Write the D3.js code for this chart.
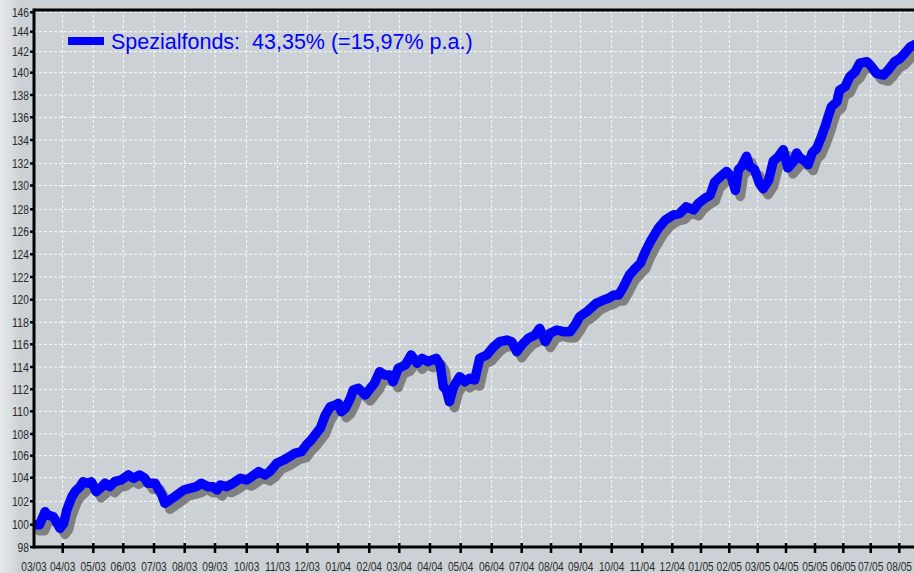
<!DOCTYPE html>
<html>
<head>
<meta charset="utf-8">
<script src="https://cdnjs.cloudflare.com/ajax/libs/d3/7.8.5/d3.min.js"></script>
<style>
  body { margin: 0; background: #cbd1d5; overflow: hidden; }
  svg { display: block; }
  .tick-label { font-family: "Liberation Sans", Arial, sans-serif; font-size: 13px; fill: #2b2b2b; }
</style>
</head>
<body>
<script>
// month tick labels (MM/YY)
const monthLabels = ['03/03', '04/03', '05/03', '06/03', '07/03', '08/03', '09/03', '10/03', '11/03', '12/03',
    '01/04', '02/04', '03/04', '04/04', '05/04', '06/04', '07/04', '08/04', '09/04', '10/04', '11/04', '12/04',
    '01/05', '02/05', '03/05', '04/05', '05/05', '06/05', '07/05', '08/05']

const yTicks = [98, 100, 102, 104, 106, 108, 110, 112, 114, 116, 118, 120, 122, 124, 126, 128,
    130, 132, 134, 136, 138, 140, 142, 144, 146]

const dates = [
    '2003-03-01', '2003-03-07', '2003-03-13', '2003-03-16', '2003-03-22', '2003-03-25', '2003-03-29',
    '2003-04-02', '2003-04-05', '2003-04-10', '2003-04-13', '2003-04-18', '2003-04-21', '2003-04-26', '2003-04-29',
    '2003-05-04', '2003-05-10', '2003-05-13', '2003-05-18', '2003-05-23', '2003-05-30',
    '2003-06-06', '2003-06-11', '2003-06-17', '2003-06-22', '2003-06-25',
    '2003-07-02', '2003-07-05', '2003-07-09', '2003-07-12', '2003-07-17', '2003-07-24', '2003-07-31',
    '2003-08-06', '2003-08-13', '2003-08-18', '2003-08-25', '2003-08-30',
    '2003-09-03', '2003-09-06', '2003-09-12', '2003-09-18', '2003-09-25',
    '2003-10-01', '2003-10-06', '2003-10-13', '2003-10-19', '2003-10-24', '2003-10-31',
    '2003-11-07', '2003-11-13', '2003-11-18', '2003-11-25', '2003-11-30',
    '2003-12-05', '2003-12-10', '2003-12-14', '2003-12-19', '2003-12-24', '2003-12-29',
    '2004-01-01', '2004-01-04', '2004-01-08', '2004-01-13', '2004-01-16', '2004-01-21', '2004-01-28',
    '2004-02-02', '2004-02-06', '2004-02-11', '2004-02-16', '2004-02-21', '2004-02-24', '2004-02-29',
    '2004-03-07', '2004-03-13', '2004-03-19', '2004-03-24', '2004-03-30',
    '2004-04-07', '2004-04-11', '2004-04-14', '2004-04-17', '2004-04-20', '2004-04-24', '2004-04-30',
    '2004-05-05', '2004-05-10', '2004-05-15', '2004-05-20', '2004-05-27',
    '2004-06-03', '2004-06-09', '2004-06-16', '2004-06-21', '2004-06-26',
    '2004-07-01', '2004-07-08', '2004-07-15', '2004-07-20', '2004-07-26', '2004-07-31',
    '2004-08-07', '2004-08-14', '2004-08-21', '2004-08-26', '2004-08-31',
    '2004-09-07', '2004-09-16', '2004-09-23', '2004-09-28',
    '2004-10-03', '2004-10-08', '2004-10-13', '2004-10-19', '2004-10-25', '2004-10-30',
    '2004-11-04', '2004-11-10', '2004-11-17', '2004-11-24',
    '2004-12-02', '2004-12-09', '2004-12-16', '2004-12-24', '2004-12-29',
    '2005-01-05', '2005-01-11', '2005-01-16', '2005-01-22', '2005-01-29',
    '2005-02-03', '2005-02-07', '2005-02-10', '2005-02-13', '2005-02-18', '2005-02-21', '2005-02-26',
    '2005-03-03', '2005-03-07', '2005-03-13', '2005-03-18', '2005-03-24', '2005-03-29',
    '2005-04-03', '2005-04-09', '2005-04-12', '2005-04-15', '2005-04-21', '2005-04-24', '2005-04-28',
    '2005-05-03', '2005-05-08', '2005-05-12', '2005-05-16', '2005-05-19', '2005-05-25', '2005-05-28',
    '2005-06-03', '2005-06-08', '2005-06-14', '2005-06-19', '2005-06-27',
    '2005-07-02', '2005-07-07', '2005-07-15', '2005-07-20', '2005-07-27',
    '2005-08-02', '2005-08-07', '2005-08-13', '2005-08-17', '2005-08-23'
]

const values = [
    100.00, 100.00, 101.11, 100.83, 100.68, 100.26, 99.68,
    100.12, 101.26, 102.39, 102.81, 103.24, 103.66, 103.53, 103.66,
    102.81, 103.24, 103.53, 103.24, 103.66, 103.81,
    104.25, 103.95, 104.25, 103.95, 103.53,
    103.53, 103.10, 102.53, 101.83, 102.11, 102.53, 102.96,
    103.10, 103.24, 103.53, 103.24, 103.24,
    102.96, 103.38, 103.24, 103.53, 103.95,
    103.81, 104.09, 104.55, 104.25, 104.55, 105.31,
    105.61, 105.91, 106.22, 106.37, 106.99,
    107.45, 108.06, 108.50, 109.67, 110.42, 110.57,
    110.73, 109.96, 110.27, 111.18, 111.94, 112.09, 111.48,
    112.09, 112.54, 113.58, 113.28, 113.28, 112.68, 113.88,
    114.18, 115.06, 114.33, 114.77, 114.47,
    114.77, 114.18, 112.23, 111.94, 110.87, 112.23, 113.13,
    112.68, 112.99, 112.83, 114.77, 115.06,
    115.79, 116.24, 116.39, 116.24, 115.35,
    115.94, 116.55, 116.85, 117.45, 116.24, 117.00,
    117.30, 117.15, 117.15, 117.75, 118.50,
    118.94, 119.68, 119.97, 120.12,
    120.41, 120.41, 121.15, 122.18, 122.77, 123.21,
    124.23, 125.27, 126.30, 127.04,
    127.49, 127.64, 128.21, 127.94, 128.49,
    128.91, 129.18, 130.31, 130.79, 131.27,
    130.79, 129.59, 131.43, 131.74, 132.61, 131.74, 131.43,
    130.16, 129.73, 130.48, 132.19, 132.61, 133.17,
    131.59, 132.19, 132.89, 132.50, 132.19, 131.90, 132.89,
    133.31, 134.29, 135.17, 136.21, 136.95, 137.40, 138.45,
    138.74, 139.64, 140.10, 140.90, 141.05,
    140.57, 139.95, 139.79, 140.26, 141.05,
    141.37, 141.85, 142.50, 142.67, 142.97
]

const legendText = 'Spezialfonds:  43,35% (=15,97% p.a.)'

const w = 914
const h = 573
const padLeft = 34
const padTop = 10
const axisY = 547

// the original axis is slightly uneven, so both scales are piecewise over the tick positions
const monthX = [34, 62.7, 93.3, 123.3, 154, 184.7, 215, 246.7, 277.7, 307.3, 338.3, 369.3, 399.3, 430,
    460.7, 491.7, 521.7, 551, 580.7, 611.7, 642.3, 672.3, 701, 729.3, 757.7, 786, 815, 843.3, 870.7, 899.3]
const tickY = [547, 524.7, 501.3, 477.7, 455.7, 434, 411.3, 389.3, 367, 344.3, 322.3, 299.7, 277, 254.3,
    231.7, 209.3, 185.5, 163.5, 140, 117.3, 95, 72.7, 51.7, 31.7, 12.3]

const parseDay = d3.utcParse('%Y-%m-%d')
const parseMonth = d3.utcParse('%m/%y')
const monthStarts = monthLabels.map(parseMonth)
const data = dates.map((d, i) => ({ date: parseDay(d), value: values[i] }))

const xScale = d3.scaleUtc().domain(monthStarts).range(monthX)
const yScale = d3.scaleLinear().domain(yTicks).range(tickY)

const svg = d3.select('body')
    .append('svg')
    .attr('width', w)
    .attr('height', h)

const defs = svg.append('defs')
const grad = defs.append('linearGradient').attr('id', 'strip')
grad.append('stop').attr('offset', '0%').attr('stop-color', '#e8ebed')
grad.append('stop').attr('offset', '100%').attr('stop-color', '#cbd1d5')
defs.append('clipPath').attr('id', 'plot')
    .append('rect')
    .attr('x', padLeft)
    .attr('y', padTop)
    .attr('width', w - padLeft)
    .attr('height', axisY - padTop)

svg.append('rect').attr('width', w).attr('height', h).attr('fill', '#cbd1d5')
svg.append('rect').attr('width', 20).attr('height', h).attr('fill', 'url(#strip)')

// grid
const grid = svg.append('g')
    .attr('stroke', '#ffffff')
    .attr('stroke-width', 1)
    .attr('stroke-dasharray', '3,2')
    .attr('opacity', 0.9)

grid.selectAll('.hgrid')
    .data(yTicks.slice(1))
    .enter()
    .append('line')
    .attr('x1', padLeft)
    .attr('x2', w)
    .attr('y1', d => yScale(d))
    .attr('y2', d => yScale(d))

grid.selectAll('.vgrid')
    .data(monthStarts.slice(1))
    .enter()
    .append('line')
    .attr('x1', d => xScale(d))
    .attr('x2', d => xScale(d))
    .attr('y1', padTop)
    .attr('y2', axisY)

// line with drop shadow
const line = d3.line()
    .x(d => xScale(d.date))
    .y(d => yScale(d.value))

const plot = svg.append('g').attr('clip-path', 'url(#plot)')

plot.append('path')
    .datum(data)
    .attr('d', line)
    .attr('transform', 'translate(5,6)')
    .attr('fill', 'none')
    .attr('stroke', '#808080')
    .attr('stroke-width', 9.5)
    .attr('stroke-linejoin', 'round')
    .attr('stroke-linecap', 'round')

plot.append('path')
    .datum(data)
    .attr('d', line)
    .attr('fill', 'none')
    .attr('stroke', '#0000ff')
    .attr('stroke-width', 9.5)
    .attr('stroke-linejoin', 'round')
    .attr('stroke-linecap', 'round')

// frame and axes
svg.append('line')
    .attr('x1', padLeft).attr('x2', w)
    .attr('y1', padTop).attr('y2', padTop)
    .attr('stroke', '#000').attr('stroke-width', 3)
svg.append('line')
    .attr('x1', padLeft).attr('x2', padLeft)
    .attr('y1', padTop - 1.5).attr('y2', axisY + 1.5)
    .attr('stroke', '#000').attr('stroke-width', 3)
svg.append('line')
    .attr('x1', padLeft).attr('x2', w)
    .attr('y1', axisY).attr('y2', axisY)
    .attr('stroke', '#000').attr('stroke-width', 3)

svg.selectAll('.ytick')
    .data(yTicks)
    .enter()
    .append('line')
    .attr('x1', 30)
    .attr('x2', 34)
    .attr('y1', d => yScale(d))
    .attr('y2', d => yScale(d))
    .attr('stroke', '#000')
    .attr('stroke-width', 2.5)

// narrow labels: squeeze the glyphs to the condensed look of the original
svg.selectAll('.ylabel')
    .data(yTicks)
    .enter()
    .append('text')
    .attr('class', 'tick-label')
    .attr('x', 29)
    .attr('y', d => yScale(d))
    .attr('dy', '0.36em')
    .attr('text-anchor', 'end')
    .attr('textLength', d => String(d).length * 5.7)
    .attr('lengthAdjust', 'spacingAndGlyphs')
    .text(d => d)

svg.selectAll('.xtick')
    .data(monthStarts.slice(1))
    .enter()
    .append('line')
    .attr('x1', d => xScale(d))
    .attr('x2', d => xScale(d))
    .attr('y1', axisY - 4)
    .attr('y2', axisY + 6)
    .attr('stroke', '#000')
    .attr('stroke-width', 2.5)

svg.selectAll('.xlabel')
    .data(monthStarts)
    .enter()
    .append('text')
    .attr('class', 'tick-label')
    .attr('x', d => xScale(d))
    .attr('y', 571)
    .attr('text-anchor', 'middle')
    .attr('textLength', 25.5)
    .attr('lengthAdjust', 'spacingAndGlyphs')
    .text((d, i) => monthLabels[i])

// legend
svg.append('line')
    .attr('x1', 68).attr('x2', 104)
    .attr('y1', 41).attr('y2', 41)
    .attr('stroke', '#0000ff')
    .attr('stroke-width', 8)

svg.append('text')
    .attr('x', 111)
    .attr('y', 48.5)
    .attr('fill', '#0000ff')
    .attr('font-family', '"Liberation Sans", Arial, sans-serif')
    .attr('font-size', 21.5)
    .style('white-space', 'pre')
    .text(legendText)
</script>
</body>
</html>
